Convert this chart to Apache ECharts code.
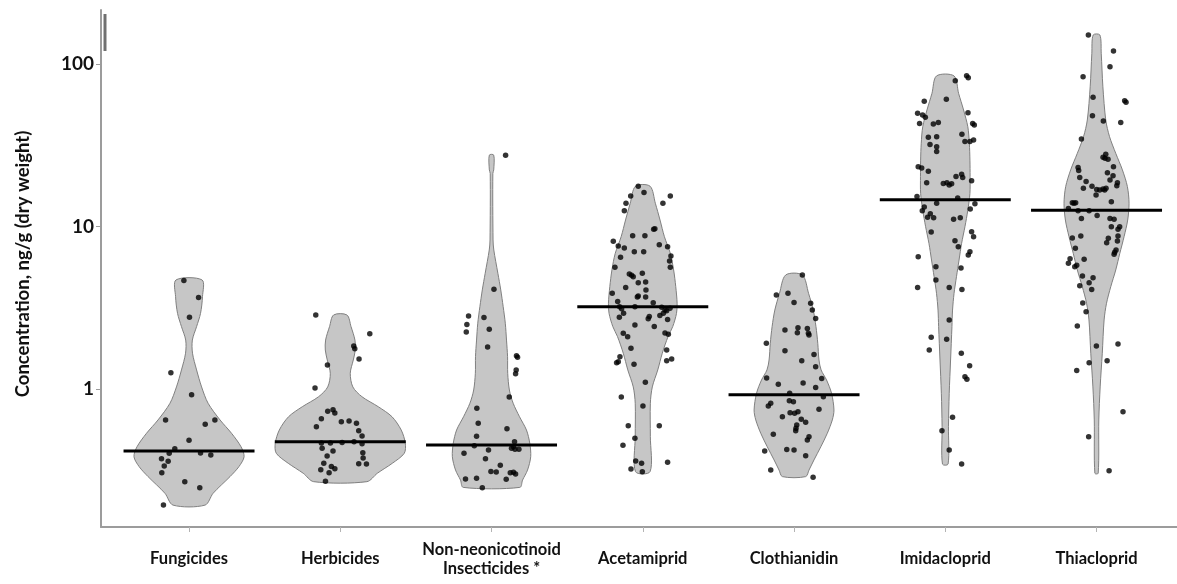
<!DOCTYPE html>
<html>
<head>
<meta charset="utf-8">
<script src="https://cdn.jsdelivr.net/npm/echarts@6/dist/echarts.min.js"></script>
<style>
  html, body { margin: 0; padding: 0; background: #ffffff; }
  #chart { width: 1177px; height: 584px; }
</style>
</head>
<body>
<div id="chart"></div>
<script>
// Categories along the x axis
const categories = [
  'Fungicides',
  'Herbicides',
  'Non-neonicotinoid\nInsecticides *',
  'Acetamiprid',
  'Clothianidin',
  'Imidacloprid',
  'Thiacloprid'
];

// Log-axis tick values
const yTicks = [1, 10, 100];

// Mean concentration for each category (ng/g dry weight)
const means = [0.415, 0.474, 0.452, 3.21, 0.922, 14.6, 12.6];

// Violin outlines: [concentration, half width of density in category units], top to bottom
const fungicidesShape = [[4.69,0.086],[3.70,0.089],[2.92,0.076],[2.42,0.05],[2.00,0.022],[1.66,0.023],[1.31,0.05],[1.03,0.083],[0.817,0.126],[0.645,0.205],[0.534,0.281],[0.441,0.344],[0.383,0.364],[0.333,0.33],[0.289,0.271],[0.228,0.159],[0.193,0.106]];
const herbicidesShape = [[2.854,0.044],[2.42,0.071],[2.00,0.097],[1.738,0.099],[1.508,0.086],[1.249,0.066],[1.03,0.083],[0.897,0.143],[0.778,0.251],[0.675,0.342],[0.559,0.403],[0.463,0.43],[0.402,0.423],[0.349,0.344],[0.303,0.245],[0.269,0.176]];
const nonNeoShape = [[27.5,0.0145],[22.3,0.0145],[21.2,0.0086],[8.26,0.01],[7.17,0.015],[5.15,0.042],[4.07,0.061],[3.21,0.077],[2.54,0.091],[2.00,0.099],[1.58,0.106],[1.249,0.107],[0.986,0.118],[0.817,0.143],[0.675,0.185],[0.559,0.231],[0.463,0.253],[0.383,0.259],[0.317,0.238],[0.275,0.205],[0.248,0.187]];
const acetamipridShape = [[17.7,0.048],[13.9,0.083],[10.96,0.114],[8.65,0.143],[6.84,0.182],[5.40,0.204],[4.26,0.218],[3.37,0.227],[2.92,0.223],[2.42,0.198],[2.10,0.167],[1.66,0.129],[1.31,0.099],[1.03,0.063],[0.817,0.05],[0.509,0.05],[0.31,0.048]];
const clothianidinShape = [[5.03,0.055],[3.88,0.096],[3.06,0.127],[2.42,0.145],[1.91,0.157],[1.508,0.165],[1.31,0.179],[1.136,0.215],[0.941,0.248],[0.743,0.264],[0.645,0.253],[0.534,0.22],[0.441,0.177],[0.366,0.132],[0.317,0.099],[0.289,0.077]];
const imidaclopridShape = [[84.4,0.058],[66.0,0.088],[52.1,0.121],[41.1,0.149],[32.5,0.159],[25.6,0.163],[20.3,0.164],[16.0,0.163],[12.6,0.149],[9.97,0.13],[7.88,0.108],[6.22,0.091],[4.91,0.074],[3.88,0.058],[3.06,0.048],[2.42,0.044],[1.508,0.035],[0.941,0.026],[0.586,0.021],[0.345,0.0185]];
const thiaclopridShape = [[150.8,0.022],[116.4,0.031],[72.4,0.042],[45.2,0.061],[35.7,0.086],[28.2,0.127],[22.3,0.171],[17.6,0.204],[13.9,0.215],[10.96,0.206],[8.65,0.182],[6.84,0.154],[5.40,0.127],[4.26,0.094],[3.37,0.066],[2.66,0.05],[1.66,0.038],[1.03,0.024],[0.645,0.015],[0.303,0.011]];

// Individual samples: [horizontal jitter in category units, concentration]
const fungicidesPts = [[-0.034,4.65],[0.063,3.65],[0.003,2.76],[-0.12,1.26],[0.017,0.922],[-0.155,0.645],[0.107,0.607],[0.171,0.645],[0,0.483],[-0.094,0.429],[-0.131,0.402],[0.076,0.404],[0.144,0.393],[-0.182,0.372],[-0.138,0.359],[-0.164,0.336],[-0.18,0.305],[-0.028,0.269],[0.071,0.247],[-0.169,0.193]];
const herbicidesPts = [[-0.162,2.85],[0.195,2.19],[0.089,1.84],[0.096,1.77],[0.124,1.53],[-0.085,1.405],[-0.167,1.014],[-0.083,0.729],[-0.048,0.746],[-0.036,0.712],[-0.125,0.656],[-0.158,0.586],[0.007,0.629],[0.058,0.636],[0.107,0.615],[0.122,0.554],[0.144,0.514],[-0.125,0.465],[-0.065,0.465],[0.012,0.468],[0.091,0.474],[0.144,0.46],[-0.12,0.432],[-0.048,0.415],[0.149,0.405],[-0.087,0.387],[0.151,0.376],[-0.109,0.349],[0.122,0.347],[0.173,0.345],[-0.059,0.333],[-0.036,0.323],[-0.129,0.319],[-0.074,0.305],[-0.098,0.271]];
const nonNeoPts = [[0.093,27.4],[0.016,4.11],[-0.152,2.81],[-0.05,2.75],[-0.163,2.49],[-0.167,2.24],[-0.015,2.33],[-0.026,1.81],[0.165,1.60],[0.172,1.57],[0.163,1.31],[0.159,1.24],[0.117,0.893],[-0.097,0.761],[-0.088,0.615],[0.102,0.57],[-0.099,0.512],[0.152,0.474],[-0.114,0.448],[0.145,0.441],[0.132,0.432],[0.155,0.426],[0.181,0.426],[-0.182,0.402],[-0.02,0.421],[-0.04,0.372],[0.058,0.339],[-0.004,0.311],[0.031,0.309],[0.124,0.305],[0.145,0.307],[0.159,0.30],[-0.172,0.279],[-0.099,0.282],[0.097,0.278],[-0.061,0.247]];
const acetamipridPts = [[-0.03,17.7],[0.008,16.2],[-0.08,15.4],[0.182,15.4],[-0.111,13.9],[0.133,13.9],[-0.122,12.5],[0.08,9.70],[0.072,9.61],[-0.195,8.10],[-0.067,8.78],[0.014,8.78],[0.109,7.73],[-0.162,7.59],[0.164,7.51],[-0.122,7.37],[-0.147,6.46],[-0.056,7.00],[0.006,7.00],[0.186,6.58],[0.177,6.13],[0.182,5.61],[-0.184,5.61],[-0.089,5.10],[-0.074,5.01],[-0.063,4.91],[-0.003,5.15],[0.019,4.55],[-0.03,4.51],[-0.113,4.22],[0.021,4.07],[-0.202,3.88],[-0.036,3.68],[-0.03,3.74],[0.019,3.68],[0.069,3.40],[-0.166,3.45],[-0.153,3.21],[-0.14,3.12],[-0.052,3.21],[0.125,3.18],[0.147,3.06],[0.158,3.03],[0.18,3.14],[-0.127,2.92],[0.136,2.92],[0.113,2.83],[0.164,2.68],[-0.155,2.76],[0.043,2.79],[0.036,2.71],[-0.052,2.48],[0.076,2.42],[0.147,2.21],[0.169,2.17],[-0.129,2.20],[-0.1,2.10],[-0.078,1.78],[0.158,1.74],[-0.151,1.58],[-0.162,1.47],[-0.173,1.45],[0.158,1.49],[0.191,1.53],[-0.058,1.42],[0.017,1.10],[-0.142,0.893],[0.001,0.786],[-0.096,0.595],[0.109,0.595],[-0.052,0.497],[-0.131,0.45],[-0.047,0.36],[-0.008,0.349],[0.164,0.354],[-0.078,0.322],[-0.003,0.31]];
const clothianidinPts = [[0.055,5.03],[-0.117,3.79],[-0.04,3.88],[0,3.41],[0.11,3.37],[0.121,3.06],[0.143,2.72],[-0.06,2.31],[0.026,2.38],[0.022,2.22],[0.088,2.36],[0.095,2.20],[0.099,2.15],[-0.183,1.91],[-0.06,1.72],[0.132,1.63],[0.051,1.49],[0.143,1.37],[-0.181,1.17],[-0.104,1.07],[0.06,1.09],[0.183,1.16],[0.143,1.02],[-0.029,0.94],[0.194,0.897],[-0.154,0.816],[-0.17,0.786],[-0.031,0.848],[-0.004,0.836],[0.165,0.75],[-0.026,0.715],[0.004,0.708],[0.026,0.725],[-0.077,0.676],[0.048,0.651],[0.077,0.624],[0.018,0.60],[0.013,0.573],[0.011,0.554],[0.099,0.509],[0.088,0.486],[-0.137,0.526],[-0.194,0.415],[-0.048,0.425],[0,0.421],[0.077,0.389],[-0.154,0.317],[0.126,0.286]];
const imidaclopridPts = [[0.141,84.8],[0.152,82.4],[0.066,78.9],[-0.139,58.9],[0.007,60.6],[-0.183,49.7],[-0.15,48.6],[-0.132,47.0],[0.15,50.2],[-0.17,43.1],[-0.079,42.7],[-0.046,43.6],[0.181,43.1],[0.192,42.1],[-0.112,35.4],[-0.057,35.7],[0.11,36.9],[-0.101,32.0],[-0.057,31.0],[-0.057,28.9],[0.13,33.4],[0.163,33.4],[0.187,34.1],[-0.179,23.3],[-0.156,22.9],[-0.112,21.9],[0.108,21.0],[0.071,20.3],[0.115,20.0],[-0.123,18.6],[-0.013,18.4],[0.011,18.6],[0.026,18.0],[0.042,18.3],[0.174,19.1],[-0.187,15.3],[0.082,15.0],[-0.057,13.9],[-0.139,13.2],[-0.152,12.5],[0.196,13.8],[0.165,12.8],[-0.117,11.4],[-0.099,12.0],[-0.077,11.3],[0.055,11.1],[0.099,11.3],[-0.093,9.25],[0.174,9.29],[0.187,8.66],[0.064,8.18],[0.086,7.51],[0.163,7.00],[0.152,6.68],[-0.179,6.52],[-0.062,5.66],[0.104,5.55],[-0.062,4.69],[-0.183,4.22],[0.026,4.22],[0.11,4.09],[0.026,2.66],[-0.093,2.08],[0.009,2.02],[-0.106,1.74],[0.106,1.66],[0.161,1.39],[0.13,1.19],[0.143,1.15],[0.048,0.669],[-0.022,0.554],[0.026,0.421],[0.108,0.345]];
const thiaclopridPts = [[-0.054,150.8],[0.112,120.2],[0.089,96.3],[-0.089,83.6],[-0.023,62.4],[0.186,59.5],[0.195,58.1],[-0.027,48.1],[0.045,44.6],[0.16,43.6],[-0.1,34.6],[0.043,26.7],[0.061,27.8],[0.056,26.3],[0.076,25.9],[0.112,23.3],[-0.122,23.1],[-0.118,22.1],[-0.111,20.0],[0.072,21.4],[0.109,20.5],[0.089,19.3],[0.138,18.6],[0.134,17.8],[-0.069,18.9],[-0.087,17.2],[-0.03,17.7],[0.001,16.9],[0.021,16.8],[0.043,17.0],[0.054,16.8],[0.063,17.2],[-0.003,15.6],[0.098,14.2],[-0.16,14.0],[-0.149,13.9],[-0.138,14.0],[-0.186,12.9],[-0.122,12.5],[-0.049,12.5],[-0.1,11.2],[0.004,11.7],[0.089,11.2],[0.116,11.1],[0.098,9.98],[0.153,9.98],[0.142,9.61],[-0.16,8.50],[-0.104,8.74],[0.142,8.74],[0.078,8.46],[0.067,7.95],[0.138,8.14],[-0.14,7.34],[0.12,6.93],[0.129,7.17],[0.116,6.74],[-0.175,6.34],[-0.186,5.93],[-0.144,5.66],[-0.131,5.77],[-0.082,6.28],[-0.093,4.96],[-0.023,4.84],[-0.049,4.51],[-0.111,4.32],[-0.032,4.10],[-0.091,3.38],[-0.069,2.99],[-0.127,2.44],[0.142,1.89],[-0.001,1.84],[-0.049,1.45],[0.07,1.49],[-0.131,1.30],[0.175,0.725],[-0.052,0.509],[0.083,0.314]];

const shapes = [fungicidesShape, herbicidesShape, nonNeoShape, acetamipridShape, clothianidinShape, imidaclopridShape, thiaclopridShape];
const samples = [fungicidesPts, herbicidesPts, nonNeoPts, acetamipridPts, clothianidinPts, imidaclopridPts, thiaclopridPts];

const FONT = 'Lato, "Open Sans", sans-serif';
const MEAN_HALF = 0.433;

const scatterData = [];
samples.forEach((pts, i) => pts.forEach(([dx, v]) => scatterData.push([i + dx, v])));

const chart = echarts.init(document.getElementById('chart'), null, { renderer: 'canvas' });

chart.setOption({
  animation: false,
  backgroundColor: '#ffffff',
  grid: { left: 101, right: 0, top: 10, bottom: 57, containLabel: false },
  xAxis: {
    type: 'value',
    min: -0.582,
    max: 6.532,
    splitLine: { show: false },
    axisLine: { show: true, onZero: false, lineStyle: { color: '#9c9c9c', width: 2 } },
    axisTick: { show: true, length: 5, customValues: categories.map((c, i) => i), lineStyle: { color: '#b4b4b4', width: 1 } },
    axisLabel: {
      customValues: categories.map((c, i) => i),
      formatter: v => categories[Math.round(v)] || '',
      fontFamily: FONT, fontWeight: 'bold', fontSize: 16.5, color: '#111111',
      lineHeight: 19, verticalAlign: 'middle', margin: 32
    }
  },
  yAxis: {
    type: 'log',
    logBase: 10,
    min: 0.1415,
    max: 214.9,
    splitLine: { show: false },
    axisLine: { show: true, onZero: false, lineStyle: { color: '#9c9c9c', width: 2 } },
    axisTick: { show: true, length: 5, customValues: yTicks, lineStyle: { color: '#9c9c9c', width: 1 } },
    axisLabel: {
      customValues: yTicks,
      formatter: v => String(Math.round(v)),
      fontFamily: FONT, fontWeight: 'bold', fontSize: 19, color: '#111111', margin: 7
    }
  },
  graphic: [
    {
      type: 'text', x: 23, y: 264, rotation: Math.PI / 2,
      style: { text: 'Concentration, ng/g (dry weight)', font: 'bold 18.5px ' + FONT, fill: '#111111', align: 'center', verticalAlign: 'middle' }
    },
    { type: 'line', shape: { x1: 105, y1: 14, x2: 105, y2: 51 }, style: { stroke: '#707070', lineWidth: 3 } }
  ],
  series: [
    {
      type: 'custom',
      name: 'density',
      data: categories.map((c, i) => [i, means[i]]),
      encode: { x: 0, y: 1 },
      clip: false,
      silent: true,
      renderItem: (params, api) => {
        const i = params.dataIndex;
        const prof = shapes[i];
        const right = prof.map(([v, w]) => api.coord([i + w, v]));
        const left = prof.slice().reverse().map(([v, w]) => api.coord([i - w, v]));
        return {
          type: 'polygon',
          shape: { points: right.concat(left), smooth: 0.3 },
          style: { fill: '#c6c6c6', stroke: '#808080', lineWidth: 1 }
        };
      },
      z: 1
    },
    {
      type: 'custom',
      name: 'mean',
      data: categories.map((c, i) => [i, means[i]]),
      encode: { x: 0, y: 1 },
      silent: true,
      renderItem: (params, api) => {
        const i = params.dataIndex;
        const m = means[i];
        const p1 = api.coord([i - MEAN_HALF, m]);
        const p2 = api.coord([i + MEAN_HALF, m]);
        return {
          type: 'line',
          shape: { x1: p1[0], y1: p1[1], x2: p2[0], y2: p2[1] },
          style: { stroke: '#000000', lineWidth: 3 }
        };
      },
      z: 2
    },
    {
      type: 'scatter',
      name: 'samples',
      data: scatterData,
      symbol: 'circle',
      symbolSize: 5.5,
      itemStyle: { color: '#000000' },
      silent: true,
      z: 3
    }
  ]
});
</script>
</body>
</html>
